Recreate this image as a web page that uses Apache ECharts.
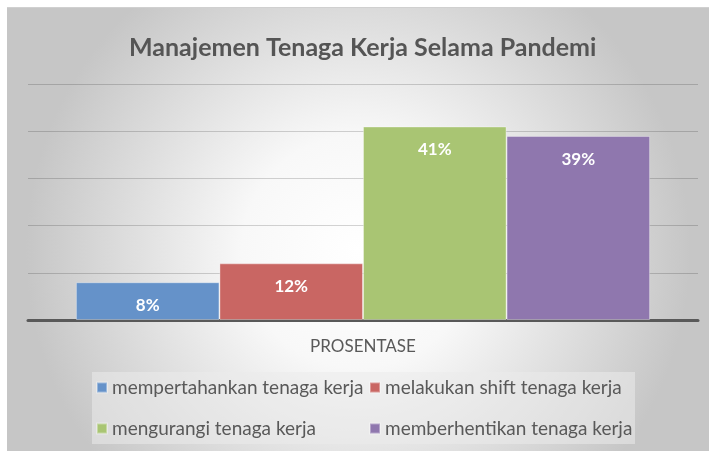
<!DOCTYPE html>
<html>
<head>
<meta charset="utf-8">
<script src="https://cdn.jsdelivr.net/npm/echarts@6/dist/echarts.min.js"></script>
<style>
  html, body { margin: 0; padding: 0; background: #fff; }
  #chart { position: absolute; left: 7px; top: 7px; width: 702px; height: 444px; border-top: 1px solid #d0d0d0; box-sizing: border-box; }
</style>
</head>
<body>
<div id="chart"></div>
<script>
const titleText = "Manajemen Tenaga Kerja Selama Pandemi";
const categories = ["PROSENTASE"];
const seriesNames = [
  "mempertahankan tenaga kerja",
  "melakukan shift tenaga kerja",
  "mengurangi tenaga kerja",
  "memberhentikan tenaga kerja"
];
const seriesValues = [8, 12, 41, 39];
const seriesColors = ["#6592c9", "#c96663", "#a9c573", "#8f77ae"];

const chart = echarts.init(document.getElementById("chart"));
const font = "Lato, 'Open Sans', sans-serif";

// legend items laid out in two columns like the original
const legendPos = [
  { left: 84, top: 365 },
  { left: 357, top: 365 },
  { left: 84, top: 406 },
  { left: 357, top: 406 }
];

chart.setOption({
  backgroundColor: {
    type: "radial", x: 0.5, y: 0.55, r: 0.75,
    colorStops: [
      { offset: 0, color: "#ffffff" },
      { offset: 0.35, color: "#f8f8f8" },
      { offset: 1, color: "#c6c6c6" }
    ]
  },
  title: {
    text: titleText,
    left: 117,
    top: 22,
    textStyle: { fontFamily: font, fontSize: 25, fontWeight: "bold", color: "#555555" }
  },
  graphic: [{
    type: "rect",
    shape: { x: 85, y: 364, width: 543, height: 72 },
    style: { fill: "rgba(235,235,235,0.55)" },
    z: -1
  }],
  legend: seriesNames.map((name, i) => ({
    data: [name],
    left: legendPos[i].left,
    top: legendPos[i].top,
    icon: "rect",
    itemWidth: 10,
    itemHeight: 10,
    itemGap: 0,
    selectedMode: false,
    textStyle: { fontFamily: font, fontSize: 19, color: "#595959" }
  })),
  grid: { left: 21, right: 11, top: 76, bottom: 131 },
  xAxis: {
    type: "category",
    data: categories,
    axisLine: { lineStyle: { color: "#595959", width: 3 } },
    axisTick: { show: false },
    axisLabel: { margin: 18, fontFamily: font, fontSize: 17, color: "#595959" }
  },
  yAxis: {
    type: "value",
    min: 0,
    max: 50,
    interval: 10,
    axisLabel: { show: false },
    axisLine: { show: false },
    axisTick: { show: false },
    splitLine: { lineStyle: { color: "rgba(0,0,0,0.17)", width: 1 } }
  },
  series: seriesNames.map((name, i) => ({
    name: name,
    type: "bar",
    data: [seriesValues[i]],
    barGap: 0,
    barCategoryGap: "14.3%",
    itemStyle: { color: seriesColors[i], borderColor: "rgba(255,255,255,0.35)", borderWidth: 1 },
    label: {
      show: true,
      position: "insideTop",
      distance: 15,
      formatter: "{c}%",
      fontFamily: font,
      fontSize: 17,
      fontWeight: "bold",
      color: "#ffffff"
    }
  }))
});
</script>
</body>
</html>
